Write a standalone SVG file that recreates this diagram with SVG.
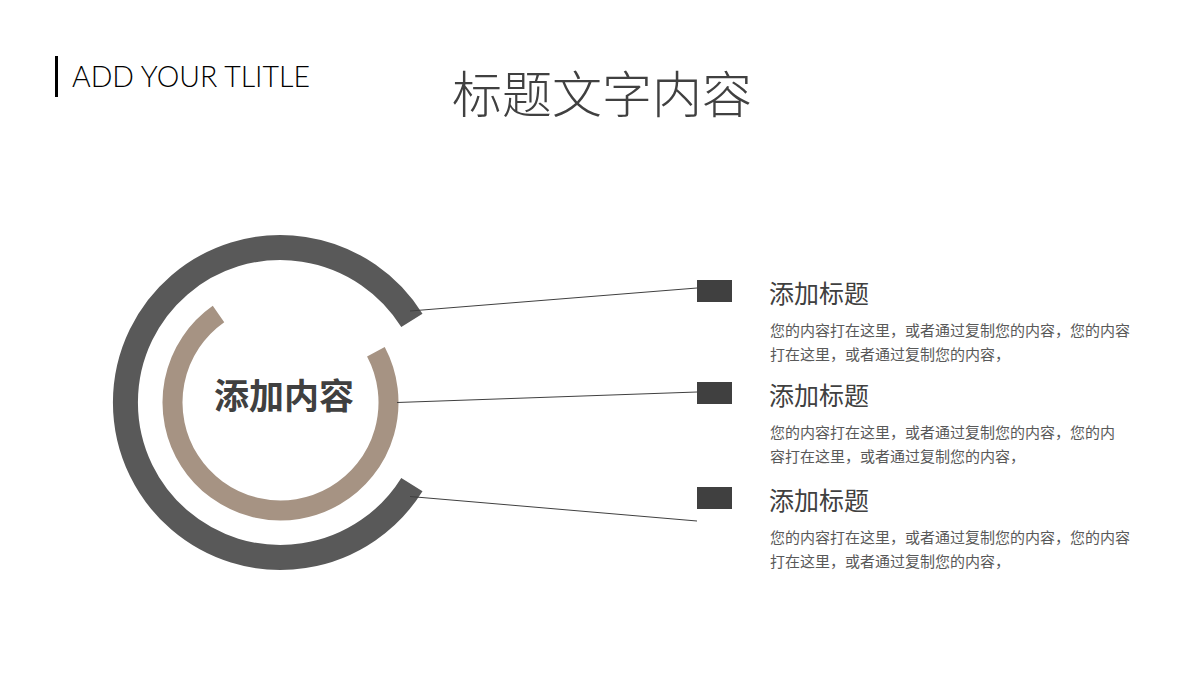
<svg xmlns="http://www.w3.org/2000/svg" width="1200" height="680" viewBox="0 0 1200 680">
<style>
.cjk{font-family:"Noto Sans CJK SC","Noto Sans",sans-serif;}
.head{font-size:25px;fill:#404040;}
.body{font-size:15px;fill:#595959;}
.conn{stroke:#404040;stroke-width:1;fill:none;}
.sq{fill:#404040;}
</style>
<rect width="1200" height="680" fill="#ffffff"/>
<g id="header">
<rect x="55" y="56" width="3" height="41" fill="#000"/>
<text x="72" y="87" font-family="Lato, 'Liberation Sans', sans-serif" font-weight="300" font-size="30" fill="#000" textLength="238" lengthAdjust="spacingAndGlyphs">ADD YOUR TLITLE</text>
<text class="cjk" x="602" y="113" font-size="50" fill="#404040" text-anchor="middle" font-weight="300">标题文字内容</text>
</g>
<g id="rings">
<path d="M 411.9 320.4 A 155 155 0 1 0 411.9 484.6" fill="none" stroke="#595959" stroke-width="25"/>
<path d="M 375.9 351.8 A 108 108 0 1 1 218.5 314" fill="none" stroke="#A69383" stroke-width="20"/>
<text class="cjk" x="284" y="409" font-size="35" font-weight="bold" fill="#404040" text-anchor="middle">添加内容</text>
</g>
<g id="connectors">
<line class="conn" x1="410" y1="311" x2="697" y2="288"/>
<line class="conn" x1="397" y1="402.5" x2="697" y2="392"/>
<line class="conn" x1="410" y1="496.5" x2="697" y2="521"/>
</g>
<g id="item1">
<rect class="sq" x="697" y="280" width="35" height="22"/>
<text class="cjk head" x="769" y="303">添加标题</text>
<text class="cjk body" x="770" y="336">您的内容打在这里，或者通过复制您的内容，您的内容</text>
<text class="cjk body" x="770" y="360">打在这里，或者通过复制您的内容，</text>
</g>
<g id="item2">
<rect class="sq" x="697" y="382" width="35" height="22"/>
<text class="cjk head" x="769" y="405">添加标题</text>
<text class="cjk body" x="770" y="438">您的内容打在这里，或者通过复制您的内容，您的内</text>
<text class="cjk body" x="770" y="462">容打在这里，或者通过复制您的内容，</text>
</g>
<g id="item3">
<rect class="sq" x="697" y="487" width="35" height="22"/>
<text class="cjk head" x="769" y="510">添加标题</text>
<text class="cjk body" x="770" y="543">您的内容打在这里，或者通过复制您的内容，您的内容</text>
<text class="cjk body" x="770" y="567">打在这里，或者通过复制您的内容，</text>
</g>
</svg>
